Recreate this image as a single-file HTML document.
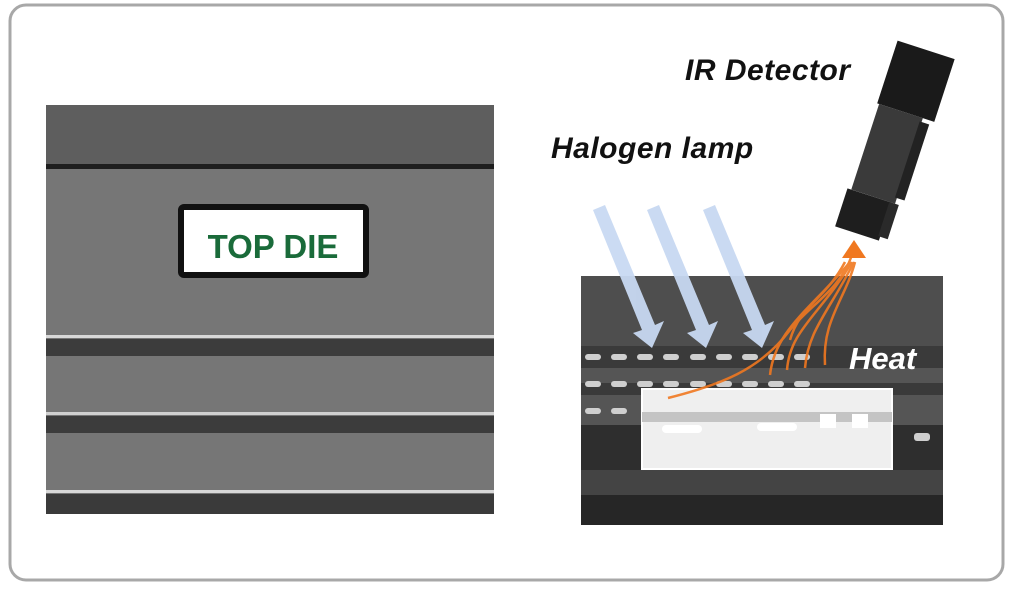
<!DOCTYPE html>
<html><head><meta charset="utf-8"><style>
html,body{margin:0;padding:0;background:#fff;}
svg{display:block;}
</style></head><body>
<svg width="1012" height="589" viewBox="0 0 1012 589" xmlns="http://www.w3.org/2000/svg">
<rect x="10" y="5" width="993" height="575" rx="16" fill="#fff" stroke="#a8a8a8" stroke-width="3"/>

<!-- Left image -->
<rect x="46" y="105" width="448" height="409" fill="#767676"/>
<rect x="46" y="105" width="448" height="60" fill="#5e5e5e"/>
<rect x="46" y="164" width="448" height="5" fill="#1e1e1e"/>
<rect x="46" y="335" width="448" height="3" fill="#d8d8d8"/>
<rect x="46" y="339" width="448" height="17" fill="#3c3c3c"/>
<rect x="46" y="412" width="448" height="3" fill="#d0d0d0"/>
<rect x="46" y="416" width="448" height="17" fill="#3c3c3c"/>
<rect x="46" y="490" width="448" height="3" fill="#d8d8d8"/>
<rect x="46" y="494" width="448" height="20" fill="#3a3a3a"/>
<rect x="181" y="207" width="185" height="68" rx="3" fill="#fff" stroke="#111" stroke-width="6"/>
<text x="273" y="258" text-anchor="middle" font-family="Liberation Sans, sans-serif" font-weight="bold" font-size="33" fill="#1a6b3a">TOP DIE</text>

<!-- Right image -->
<rect x="581" y="276" width="362" height="249" fill="#5a5a5a"/>
<rect x="581" y="276" width="362" height="70" fill="#4e4e4e"/>
<rect x="581" y="346" width="362" height="22" fill="#3a3a3a"/>
<rect x="581" y="368" width="362" height="15" fill="#555"/>
<rect x="581" y="383" width="362" height="12" fill="#3a3a3a"/>
<rect x="581" y="395" width="362" height="30" fill="#555"/>
<rect x="581" y="425" width="362" height="45" fill="#2e2e2e"/>
<rect x="581" y="470" width="362" height="25" fill="#444"/>
<rect x="581" y="495" width="362" height="30" fill="#262626"/>
<g fill="#cfcfcf">
<rect x="585" y="354" width="16" height="6" rx="3"/><rect x="611" y="354" width="16" height="6" rx="3"/><rect x="637" y="354" width="16" height="6" rx="3"/><rect x="663" y="354" width="16" height="6" rx="3"/><rect x="690" y="354" width="16" height="6" rx="3"/><rect x="716" y="354" width="16" height="6" rx="3"/><rect x="742" y="354" width="16" height="6" rx="3"/><rect x="768" y="354" width="16" height="6" rx="3"/><rect x="794" y="354" width="16" height="6" rx="3"/>
<rect x="585" y="381" width="16" height="6" rx="3"/><rect x="611" y="381" width="16" height="6" rx="3"/><rect x="637" y="381" width="16" height="6" rx="3"/><rect x="663" y="381" width="16" height="6" rx="3"/><rect x="690" y="381" width="16" height="6" rx="3"/><rect x="716" y="381" width="16" height="6" rx="3"/><rect x="742" y="381" width="16" height="6" rx="3"/><rect x="768" y="381" width="16" height="6" rx="3"/><rect x="794" y="381" width="16" height="6" rx="3"/>
<rect x="585" y="408" width="16" height="6" rx="3"/><rect x="611" y="408" width="16" height="6" rx="3"/>
<rect x="914" y="433" width="16" height="8" rx="3"/>
</g>
<rect x="642" y="389" width="250" height="80" fill="#efefef" stroke="#fff" stroke-width="2"/>
<rect x="642" y="412" width="250" height="10" fill="#c4c4c4"/>
<rect x="662" y="425" width="40" height="8" rx="4" fill="#fff"/>
<rect x="757" y="423" width="40" height="8" rx="4" fill="#fff"/>
<rect x="820" y="414" width="16" height="14" fill="#fff"/><rect x="852" y="414" width="16" height="14" fill="#fff"/>

<!-- Halogen arrows -->
<g fill="#c8d9f2" opacity="0.95">
<polygon points="593,210 605,205 655,325 664,321 652,348 633,333 642,330"/>
<polygon points="647,210 659,205 709,325 718,321 706,348 687,333 696,330"/>
<polygon points="703,210 715,205 765,325 774,321 762,348 743,333 752,330"/>
</g>

<!-- Heat lines -->
<g fill="none" stroke="#f07820" stroke-width="2.5" opacity="0.9">
<path d="M668,398 C720,385 760,370 790,330 C810,305 840,290 852,255"/>
<path d="M770,375 C775,330 810,310 850,262"/>
<path d="M787,370 C790,330 820,315 852,262"/>
<path d="M805,368 C808,330 830,310 854,262"/>
<path d="M825,365 C822,320 845,300 855,262"/>
<path d="M845,262 C825,300 800,305 790,340"/>
</g>
<polygon points="842,258 854,240 866,258" fill="#f07820"/>

<!-- IR detector -->
<g transform="translate(-10 0) rotate(18 890 140)">
<rect x="876" y="40" width="60" height="66" fill="#1a1a1a"/>
<rect x="878" y="106" width="46" height="90" fill="#3a3a3a"/>
<rect x="922" y="110" width="10" height="80" fill="#222"/>
<rect x="874" y="196" width="46" height="40" fill="#1e1e1e"/>
<rect x="918" y="196" width="10" height="36" fill="#2a2a2a"/>
</g>

<text x="685" y="80" font-family="Liberation Sans, sans-serif" font-style="italic" font-weight="bold" font-size="30" fill="#111" letter-spacing="0.5">IR Detector</text>
<text x="551" y="158" font-family="Liberation Sans, sans-serif" font-style="italic" font-weight="bold" font-size="30" fill="#111" letter-spacing="0.5">Halogen lamp</text>
<text x="849" y="369" font-family="Liberation Sans, sans-serif" font-style="italic" font-weight="bold" font-size="31" fill="#fff">Heat</text>
</svg>
</body></html>
